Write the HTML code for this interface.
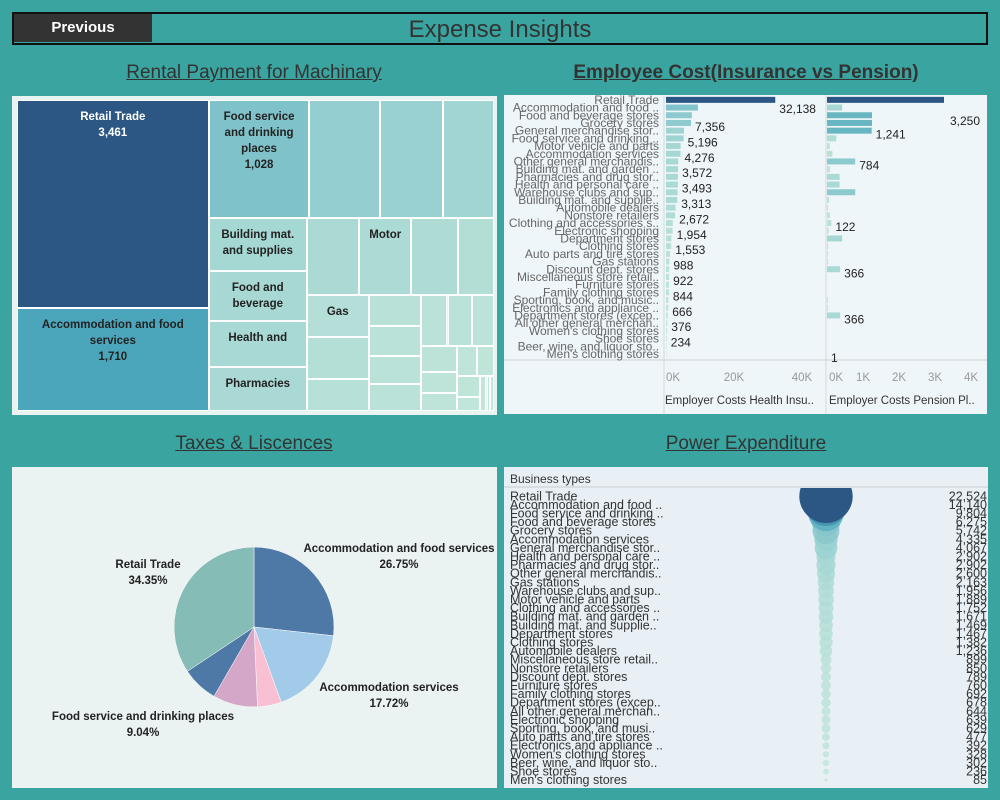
<!DOCTYPE html>
<html><head><meta charset="utf-8"><style>
body{margin:0;width:1000px;height:800px;background:#3aa5a0;position:relative;overflow:hidden;font-family:"Liberation Sans",sans-serif}
.abs{position:absolute}
.title{position:absolute;font-size:19px;color:#333;text-decoration:underline;text-align:center;width:486px}
.tm{position:absolute;box-sizing:border-box;border:1px solid #fff;overflow:hidden;text-align:center;font-size:11.5px;font-weight:bold;color:#222;line-height:16px;padding:0}
</style></head><body>
<div class="abs" style="left:12px;top:12px;width:972px;height:29px;border:2px solid #111"></div>
<div class="abs" style="left:14px;top:14px;width:138px;height:28px;background:#333;color:#fff;font-weight:bold;font-size:15px;line-height:28px;text-align:center">Previous</div>
<div class="abs" style="left:300px;top:14px;width:400px;text-align:center;font-size:24px;color:#333;line-height:32px">Expense Insights</div>

<div class="title" style="left:11px;top:62px">Rental Payment for Machinary</div>
<div class="title" style="left:503px;top:62px;font-weight:bold">Employee Cost(Insurance vs Pension)</div>
<div class="title" style="left:11px;top:433px">Taxes &amp; Liscences</div>
<div class="title" style="left:503px;top:433px">Power Expenditure</div>

<div class="abs" style="left:12px;top:96px;width:485px;height:319px;background:#e9f4f2"></div>
<div class="abs" id="treemap" style="left:17px;top:100px;width:477px;height:311px;overflow:hidden"></div>
<div class="abs" style="left:504px;top:95px;width:483px;height:319px;background:#eff6f9"></div>
<div class="abs" style="left:12px;top:467px;width:485px;height:321px;background:#eaf3f2"></div>
<div class="abs" style="left:504px;top:467px;width:484px;height:321px;background:#e8f0f5"></div>

<svg id="svg" class="abs" style="left:0;top:0" width="1000" height="800">
<defs><clipPath id="powClip"><rect x="504" y="488" width="484" height="300"/></clipPath></defs>
</svg>

<script>
// ---------- Treemap data ----------
const tmValues=[3461,1710,1028,716,650,515,455,430,386,378,354,347,313,245,227,221,173,143,133,129,124,117,108,99,80,62,56,51,44,43,29,20,12,11];
const tmLabels=["Retail Trade","Accommodation and food services","Food service and drinking places","","","","Building mat. and supplies","Food and beverage","Health and","Pharmacies","","Motor","","","Gas","","","","","","","","","","","","","","","","","","",""];
const tmShowValue=[true,true,true];
const tmRowCounts=[2,4,4,4,3,4,3,3,2,2,3];
// ---------- Employee cost data ----------
const empCats=["Retail Trade","Accommodation and food ..","Food and beverage stores","Grocery stores","General merchandise stor..","Food service and drinking ..","Motor vehicle and parts","Accommodation services","Other general merchandis..","Building mat. and garden ..","Pharmacies and drug stor..","Health and personal care ..","Warehouse clubs and sup..","Building mat. and supplie..","Automobile dealers","Nonstore retailers","Clothing and accessories s..","Electronic shopping","Department stores","Clothing stores","Auto parts and tire stores","Gas stations","Discount dept. stores","Miscellaneous store retail..","Furniture stores","Family clothing stores","Sporting, book, and music..","Electronics and appliance ..","Department stores (excep..","All other general merchan..","Women's clothing stores","Shoe stores","Beer, wine, and liquor sto..","Men's clothing stores"];
const healthVals=[32138,9400,7600,7356,5300,5196,4300,4276,3600,3572,3500,3493,3400,3313,2800,2672,2000,1954,1600,1553,1200,988,950,922,880,844,700,666,500,376,300,234,150,100];
const pensionVals=[3250,420,1250,1250,1241,260,80,150,784,80,350,350,784,60,30,80,122,50,420,30,30,30,366,0,0,0,30,30,366,0,0,0,0,1];
const healthLabelRows=[0,3,5,7,9,11,13,15,17,19,21,23,25,27,29,31];
const pensionLabelRows=[0,4,8,16,22,28,33];
const healthTicks=[0,20000,40000];
const healthTickLabels=["0K","20K","40K"];
const pensionTicks=[0,1000,2000,3000,4000];
const pensionTickLabels=["0K","1K","2K","3K","4K"];
// ---------- Pie data ----------
const pieCats=["Accommodation and food services","Accommodation services","Other A","Food service and drinking places","Other B","Retail Trade"];
const pieVals=[26.75,17.72,4.83,9.04,7.31,34.35];
const pieColors=["#4e78a5","#a1cbe9","#f9bfd3","#d4a6c8","#4e78a5","#86bcb6"];
const pieLabelShown=[true,true,false,true,false,true];
// ---------- Power data ----------
const powCats=["Retail Trade","Accommodation and food ..","Food service and drinking ..","Food and beverage stores","Grocery stores","Accommodation services","General merchandise stor..","Health and personal care ..","Pharmacies and drug stor..","Other general merchandis..","Gas stations","Warehouse clubs and sup..","Motor vehicle and parts","Clothing and accessories ..","Building mat. and garden ..","Building mat. and supplie..","Department stores","Clothing stores","Automobile dealers","Miscellaneous store retail..","Nonstore retailers","Discount dept. stores","Furniture stores","Family clothing stores","Department stores (excep..","All other general merchan..","Electronic shopping","Sporting, book, and musi..","Auto parts and tire stores","Electronics and appliance ..","Women's clothing stores","Beer, wine, and liquor sto..","Shoe stores","Men's clothing stores"];
const powVals=[22524,14140,9804,6275,5742,4335,4067,2902,2902,2600,2163,1956,1889,1752,1671,1469,1467,1382,1236,899,850,789,760,692,678,644,639,629,477,392,328,302,236,85];

const NS="http://www.w3.org/2000/svg";
const svg=document.getElementById('svg');
function mk(tag,attrs,parent){const e=document.createElementNS(NS,tag);for(const k in attrs)e.setAttribute(k,attrs[k]);(parent||svg).appendChild(e);return e;}
function hex(c){return [parseInt(c.slice(1,3),16),parseInt(c.slice(3,5),16),parseInt(c.slice(5,7),16)];}
const stops=[[0,"#c2e6da"],[0.2,"#96cfd0"],[0.3,"#7fc2c9"],[0.5,"#4aa5bb"],[1,"#2c5784"]];
function colorFor(t){t=Math.max(0,Math.min(1,t));for(let i=1;i<stops.length;i++){if(t<=stops[i][0]){const a=stops[i-1],b=stops[i];const f=(t-a[0])/(b[0]-a[0]);const ca=hex(a[1]),cb=hex(b[1]);return "rgb("+ca.map((v,j)=>Math.round(v+(cb[j]-v)*f)).join(",")+")";}}return stops[stops.length-1][1];}
function fmt(v){return v.toLocaleString('en-US');}

// ---------- Treemap (strip layout) ----------
(function(){
  const W=477,H=311,tm=document.getElementById('treemap');
  const total=tmValues.reduce((a,b)=>a+b,0);
  const areas=tmValues.map(v=>v*W*H/total);
  let rect={x:0,y:0,w:W,h:H};const out=[];
  let i=0;
  tmRowCounts.forEach(n=>{
    const row=areas.slice(i,i+n);
    const s=row.reduce((a,b)=>a+b,0);
    if(rect.w>=rect.h){const cw=s/rect.h;let y=rect.y;row.forEach((a,k)=>{const h=a/cw;out[i+k]={x:rect.x,y:y,w:cw,h:h};y+=h;});rect={x:rect.x+cw,y:rect.y,w:rect.w-cw,h:rect.h};}
    else{const rh=s/rect.w;let x=rect.x;row.forEach((a,k)=>{const w=a/rh;out[i+k]={x:x,y:rect.y,w:w,h:rh};x+=w;});rect={x:rect.x,y:rect.y+rh,w:rect.w,h:rect.h-rh};}
    i+=n;
  });
  out.forEach((r,k)=>{
    const d=document.createElement('div');d.className='tm';
    
    
    d.style.left=r.x+'px';d.style.top=r.y+'px';d.style.width=r.w+'px';d.style.height=r.h+'px';
    d.style.background=colorFor(tmValues[k]/tmValues[0]);
    if(k===0)d.style.color='#fff';
    let html=tmLabels[k]||'';
    if(tmShowValue[k])html+='<br>'+fmt(tmValues[k]);
    if(html)d.style.padding='8px 6px 0';
    d.innerHTML=html;tm.appendChild(d);
  });
})();

// ---------- Employee cost bars ----------
(function(){
  const y0=96,rowH=7.7;
  const hx0=666,hScale=136/40000, px0=827,pScale=36/1000;
  const g=mk('g',{});
  
  
  mk('line',{x1:664,y1:95,x2:664,y2:414,stroke:'#d4d8da'},g);
  mk('line',{x1:826,y1:95,x2:826,y2:414,stroke:'#d4d8da'},g);
  mk('line',{x1:504,y1:360,x2:987,y2:360,stroke:'#cdd1d3'},g);
  empCats.forEach((c,i)=>{
    const cy=y0+rowH*(i+0.5);
    const t=mk('text',{x:659,y:cy+4,'text-anchor':'end','font-size':'12',fill:'#666'},g);t.textContent=c;
    
    
    const b=mk('rect',{x:hx0,y:cy-3,width:Math.max(0,healthVals[i]*hScale),height:6,fill:colorFor(healthVals[i]/healthVals[0])},g);
    
    
    const p=mk('rect',{x:px0,y:cy-3,width:Math.max(0,pensionVals[i]*pScale),height:6,fill:colorFor(pensionVals[i]/pensionVals[0])},g);
    
    
  });
  healthLabelRows.forEach(i=>{
    const cy=y0+rowH*(i+0.5);const dy=i===0?9:4;
    const t=mk('text',{x:hx0+healthVals[i]*hScale+4,y:cy+dy+4,'font-size':'12',fill:'#222'},g);t.textContent=fmt(healthVals[i]);
    
    
  });
  pensionLabelRows.forEach(i=>{
    const cy=y0+rowH*(i+0.5);const dy=i===0?21:4;
    const t=mk('text',{x:px0+pensionVals[i]*pScale+4+(i===0?2:0),y:cy+dy+4,'font-size':'12',fill:'#222'},g);t.textContent=fmt(pensionVals[i]);
    
    
  });
  healthTicks.forEach((v,k)=>{
    const t=mk('text',{x:hx0+v*hScale,y:381,'text-anchor':k===0?'start':'middle','font-size':'11.5',fill:'#999'},g);t.textContent=healthTickLabels[k];
    
    
  });
  pensionTicks.forEach((v,k)=>{
    const t=mk('text',{x:px0+v*pScale+(k===0?2:0),y:381,'text-anchor':k===0?'start':'middle','font-size':'11.5',fill:'#999'},g);t.textContent=pensionTickLabels[k];
    
    
  });
  let t=mk('text',{x:665,y:404,'font-size':'11.5',fill:'#333'},g);t.textContent='Employer Costs Health Insu..';
  
  
  t=mk('text',{x:829,y:404,'font-size':'11.5',fill:'#333'},g);t.textContent='Employer Costs Pension Pl..';
  
  
})();

// ---------- Pie ----------
(function(){
  const cx=254,cy=627,r=80;const total=pieVals.reduce((a,b)=>a+b,0);
  const g=mk('g',{});
  
  
  let a0=0;
  const labelPos={0:[399,548],1:[389,687],3:[143,716],5:[148,564]};
  pieVals.forEach((v,i)=>{
    const a1=a0+v/total*2*Math.PI;
    const x0=cx+r*Math.sin(a0),y0=cy-r*Math.cos(a0),x1=cx+r*Math.sin(a1),y1=cy-r*Math.cos(a1);
    const large=(a1-a0)>Math.PI?1:0;
    const p=mk('path',{d:`M${cx},${cy}L${x0},${y0}A${r},${r} 0 ${large} 1 ${x1},${y1}Z`,fill:pieColors[i],stroke:'#fff','stroke-width':'0.5'},g);
    
    
    if(pieLabelShown[i]&&labelPos[i]){
      const [lx,ly]=labelPos[i];
      const t=mk('text',{x:lx,y:ly+4,'text-anchor':'middle','font-size':'11.5','font-weight':'bold',fill:'#222'},g);t.textContent=pieCats[i];
      
      
      const t2=mk('text',{x:lx,y:ly+20,'text-anchor':'middle','font-size':'11.5','font-weight':'bold',fill:'#222'},g);t2.textContent=v.toFixed(2)+'%';
      
      
    }
    a0=a1;
  });
})();

// ---------- Power expenditure ----------
(function(){
  const y0=492,rowH=8.6,cxp=826,rMax=26.7;
  const g=mk('g',{});
  
  
  let t=mk('text',{x:510,y:483,'font-size':'12',fill:'#333'},g);t.textContent='Business types';
  
  
  mk('line',{x1:504,y1:487,x2:988,y2:487,stroke:'#c8cccf'},g);
  const cg=mk('g',{'clip-path':'url(#powClip)'},g);
  for(let i=powVals.length-1;i>=0;i--){
    const cy=y0+rowH*(i+0.5);
    const c=mk('circle',{cx:cxp,cy:cy,r:rMax*Math.sqrt(powVals[i]/powVals[0]),fill:colorFor(powVals[i]/powVals[0]),'fill-opacity':i===0?1:0.85},cg);
    
    
  }
  powCats.forEach((c,i)=>{
    const cy=y0+rowH*(i+0.5);
    const l=mk('text',{x:510,y:cy+4,'font-size':'12.5',fill:'#333'},g);l.textContent=c;
    
    
    const v=mk('text',{x:987,y:cy+4,'text-anchor':'end','font-size':'12.5',fill:'#333'},g);v.textContent=fmt(powVals[i]);
    
    
  });
})();
</script>
</body></html>
